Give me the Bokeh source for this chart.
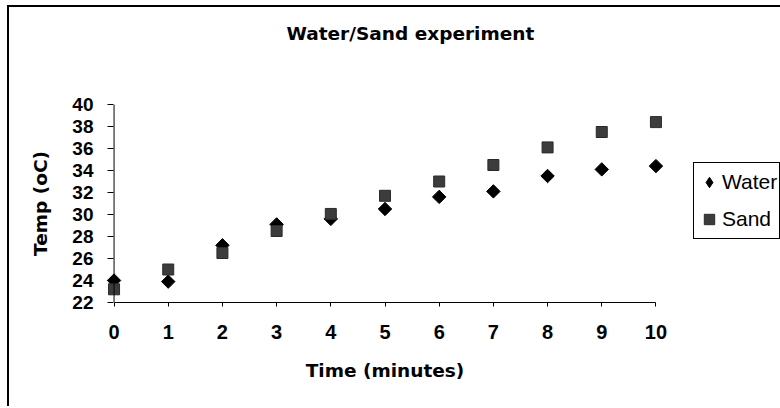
import math
from bokeh.plotting import figure
from bokeh.layouts import column
from bokeh.models import (Range1d, FixedTicker, Legend, LegendItem, ColumnDataSource, Title, Span)
from bokeh.embed import file_html
from bokeh.resources import INLINE

time_min = [0, 1, 2, 3, 4, 5, 6, 7, 8, 9, 10]
water = [24.0, 23.9, 27.2, 29.1, 29.6, 30.5, 31.6, 32.1, 33.5, 34.1, 34.4]
sand = [23.2, 25.0, 26.5, 28.5, 30.05, 31.7, 33.0, 34.5, 36.1, 37.5, 38.4]
y_ticks = [22, 24, 26, 28, 30, 32, 34, 36, 38, 40]
x_ticks = time_min

FONT = "Liberation Sans"
TFONT = "DejaVu Sans"

p = figure(frame_width=569, frame_height=198, output_backend="svg", toolbar_location=None,
           x_range=Range1d(-0.25, 10.25), y_range=Range1d(22, 40),
           min_border_left=91, min_border_top=0, min_border_right=111, min_border_bottom=104)
p.outline_line_color = None
p.xgrid.visible = False
p.ygrid.visible = False
p.background_fill_color = "white"
p.border_fill_color = "white"

spacer = Title(text=" ", text_font_size="10px", standoff=35)
p.add_layout(spacer, "above")
p.title = Title(text="Water/Sand experiment", text_font=TFONT, text_font_size="18.5px",
                text_font_style="bold", text_color="black", align="left", offset=186, standoff=26)

src = ColumnDataSource(dict(t=time_min, w=water, s=sand))
rw = p.scatter("t", "w", source=src, marker="square", angle=math.pi / 4, size=9.5,
               fill_color="black", line_color="black")
rs = p.scatter("t", "s", source=src, marker="square", size=11,
               fill_color="#3c3c3c", line_color="#2a2a2a")
# hidden twin of the water series, only used for the legend's diamond symbol
rw_leg = p.scatter("t", "w", source=src, marker="diamond", fill_color="black",
                   line_color="black", visible=False)

# y axis line at x = 0
p.add_layout(Span(location=0, dimension="height", line_color="black", line_width=1))

xa = p.xaxis[0]
xa.bounds = (0, 10)
xa.ticker = FixedTicker(ticks=x_ticks)
xa.minor_tick_line_color = None
xa.major_tick_in = 0
xa.major_tick_out = 4
xa.axis_line_color = "black"
xa.major_label_text_font = FONT
xa.major_label_text_font_size = "20px"
xa.major_label_text_font_style = "bold"
xa.major_label_text_color = "black"
xa.major_label_standoff = 18
xa.axis_label = "Time (minutes)"
xa.axis_label_text_font = TFONT
xa.axis_label_text_font_size = "18.5px"
xa.axis_label_text_font_style = "bold"
xa.axis_label_text_color = "black"
xa.axis_label_standoff = 18

ya = p.yaxis[0]
ya.ticker = FixedTicker(ticks=y_ticks)
ya.axis_line_color = None
ya.minor_tick_line_color = None
ya.major_tick_in = 13
ya.major_tick_out = -7
ya.major_tick_line_color = "black"
ya.major_label_text_font = FONT
ya.major_label_text_font_size = "19px"
ya.major_label_text_font_style = "bold"
ya.major_label_text_color = "black"
ya.major_label_standoff = 7
ya.axis_label = "Temp (oC)"
ya.axis_label_text_font = TFONT
ya.axis_label_text_font_size = "18.5px"
ya.axis_label_text_font_style = "bold"
ya.axis_label_text_color = "black"
ya.axis_label_standoff = 18

legend = Legend(items=[LegendItem(label="Water", renderers=[rw_leg]),
                       LegendItem(label="Sand", renderers=[rs])],
                location=(24, 63), orientation="vertical")
legend.label_text_font = FONT
legend.label_text_font_size = "21px"
legend.label_text_color = "black"
legend.border_line_color = "black"
legend.border_line_width = 1
legend.border_line_alpha = 1
legend.padding = 2
legend.margin = 0
legend.spacing = 3
legend.label_height = 34
legend.glyph_height = 34
legend.glyph_width = 26
legend.label_standoff = 0
legend.inactive_fill_alpha = 0
p.add_layout(legend, "right")

root = column(p, margin=(5, 0, 0, 7),
              styles={"border-top": "2px solid black", "border-left": "2px solid black"})

open("out.html", "w").write(file_html(root, INLINE))
